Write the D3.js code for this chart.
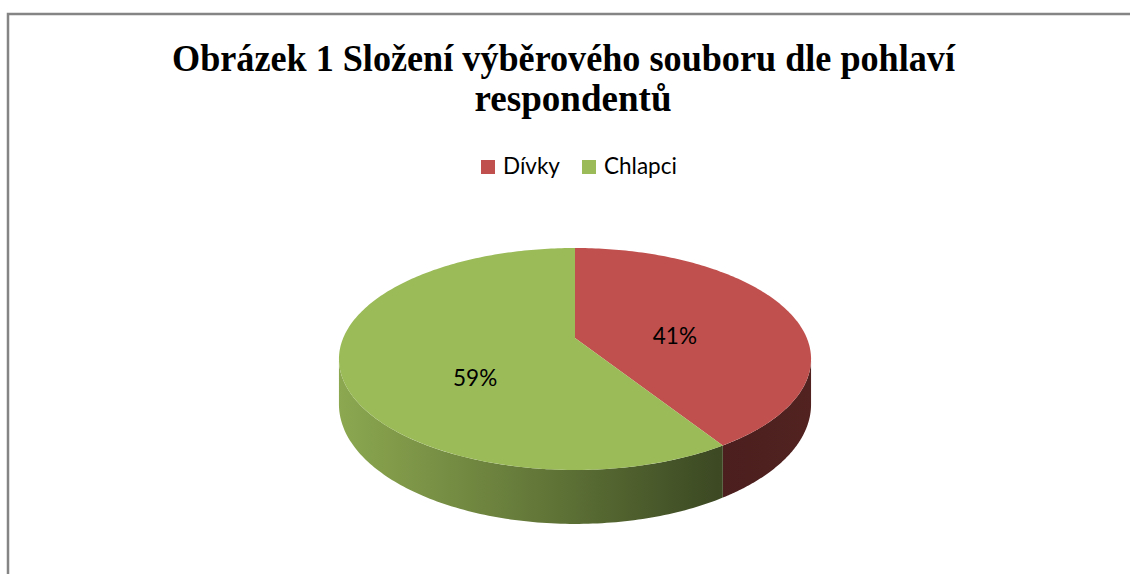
<!DOCTYPE html>
<html>
<head>
<meta charset="utf-8">
<script src="https://cdn.jsdelivr.net/npm/d3@7"></script>
<style>
html,body{margin:0;padding:0;background:#fff;}
svg{display:block;}
</style>
</head>
<body>
<svg id="chart" width="1130" height="574"></svg>
<script>
const categories = ["Dívky", "Chlapci"];
const values = [41, 59];
const valueLabels = ["41%", "59%"];
const colors = ["#c0504d", "#9bbb59"];
const titleLines = ["Obrázek 1 Složení výběrového souboru dle pohlaví", "respondentů"];

const svg = d3.select("#chart");

// frame (only left and top edges visible)
svg.append("rect").attr("x", 8).attr("y", 14).attr("width", 1300).attr("height", 800)
  .attr("fill", "#fff").attr("stroke", "#858585").attr("stroke-width", 2.5);

// title
const title = svg.append("g");
title.append("text").attr("x", 563.5).attr("y", 71)
  .attr("text-anchor", "middle")
  .attr("font-family", "'Liberation Serif','Times New Roman',serif")
  .attr("font-weight", "bold").attr("font-size", 37)
  .attr("textLength", 783).attr("lengthAdjust", "spacingAndGlyphs")
  .text(titleLines[0]);
title.append("text").attr("x", 573).attr("y", 111)
  .attr("text-anchor", "middle")
  .attr("font-family", "'Liberation Serif','Times New Roman',serif")
  .attr("font-weight", "bold").attr("font-size", 37)
  .attr("textLength", 197).attr("lengthAdjust", "spacingAndGlyphs")
  .text(titleLines[1]);

// legend
const legendX = d3.scaleOrdinal().domain(categories).range([481, 582]);
const legend = svg.append("g");
categories.forEach((c, i) => {
  const g = legend.append("g").attr("transform", `translate(${legendX(c)},160)`);
  g.append("rect").attr("width", 14).attr("height", 14).attr("fill", colors[i]);
  g.append("text").attr("x", 22).attr("y", 14)
    .attr("font-family", "Lato, 'Open Sans', sans-serif").attr("font-size", 22.5)
    .attr("fill", "#000").text(c);
});

// 3D perspective pie
const cx = 575, cy = 338, kR = 231.8, kS = 107, p = 0.189, h0 = 43.8;
function project(theta, r, z) {
  const X = r * Math.sin(theta), Y = r * Math.cos(theta);
  const den = 1 + p * Y;
  return [cx + kR * X / den, cy - kS * Y / den + z * h0 / den];
}

const pie = d3.pie().sort(null).value(d => d)(values);

// side shading gradients
const defs = svg.append("defs");
colors.forEach((c, i) => {
  const base = d3.rgb(c);
  const shade = f => d3.rgb(base.r * f, base.g * f, base.b * f).formatHex();
  const gr = defs.append("linearGradient").attr("id", "side" + i)
    .attr("gradientUnits", "userSpaceOnUse")
    .attr("x1", 338).attr("x2", 812).attr("y1", 0).attr("y2", 0);
  [[0, 0.9], [0.45, 0.62], [0.8, 0.39], [1, 0.42]].forEach(([o, f]) =>
    gr.append("stop").attr("offset", o).attr("stop-color", shade(f)));
});

const visA = Math.acos(-p), visB = 2 * Math.PI - Math.acos(-p);
const N = 120;
const sides = svg.append("g");
pie.forEach((s, i) => {
  const a = Math.max(s.startAngle, visA), b = Math.min(s.endAngle, visB);
  if (b <= a) return;
  const top = d3.range(N + 1).map(k => project(a + (b - a) * k / N, 1, 0));
  const bot = d3.range(N + 1).map(k => project(b - (b - a) * k / N, 1, 1));
  sides.append("path").attr("d", d3.line()(top.concat(bot)) + "Z")
    .attr("fill", `url(#side${i})`);
});

// label placement on a flat ellipse around the visual centre
const lcx = 575, lcy = 357, lrx = 104, lry = 77;
const tops = svg.append("g");
pie.forEach((s, i) => {
  const n = Math.max(8, Math.ceil((s.endAngle - s.startAngle) / (2 * Math.PI) * 360));
  const pts = [project(0, 0, 0)].concat(
    d3.range(n + 1).map(k => project(s.startAngle + (s.endAngle - s.startAngle) * k / n, 1, 0)));
  tops.append("path").attr("d", d3.line()(pts) + "Z").attr("fill", colors[i]);
});
pie.forEach((s, i) => {
  const mid = (s.startAngle + s.endAngle) / 2;
  const lx = lcx + lrx * Math.sin(mid), ly = lcy - lry * Math.cos(mid);
  svg.append("text").attr("x", lx).attr("y", ly + 8)
    .attr("text-anchor", "middle")
    .attr("font-family", "Lato, 'Open Sans', sans-serif").attr("font-size", 22.5)
    .attr("fill", "#000").text(valueLabels[i]);
});
</script>
</body>
</html>
